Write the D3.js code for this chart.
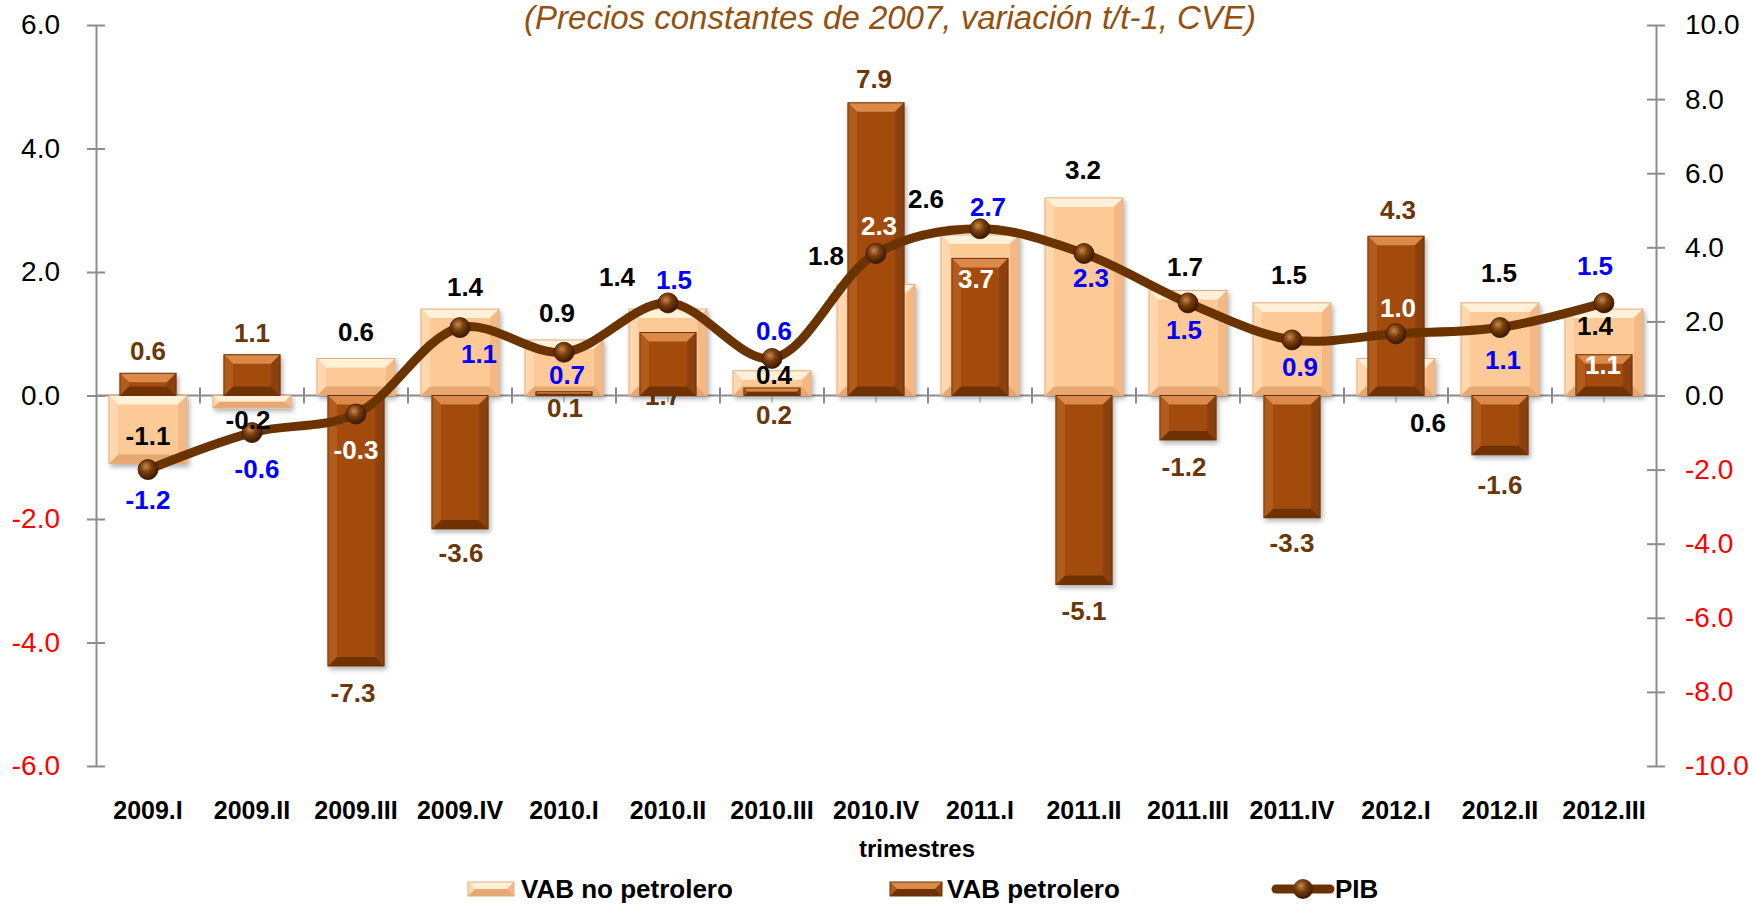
<!DOCTYPE html>
<html>
<head>
<meta charset="utf-8">
<script src="https://cdn.jsdelivr.net/npm/d3@7"></script>
<style>
    body { margin: 0; background: #fff; }
    text { font-family: "Liberation Sans", Arial, sans-serif; }
</style>
</head>
<body>
<div id="chart"></div>
<script>
// data
let quarters = ["2009.I", "2009.II", "2009.III", "2009.IV", "2010.I", "2010.II", "2010.III", "2010.IV",
    "2011.I", "2011.II", "2011.III", "2011.IV", "2012.I", "2012.II", "2012.III"];
let vabNoPetrolero = [-1.1, -0.2, 0.6, 1.4, 0.9, 1.4, 0.4, 1.8, 2.6, 3.2, 1.7, 1.5, 0.6, 1.5, 1.4];
let vabPetrolero = [0.6, 1.1, -7.3, -3.6, 0.1, 1.7, 0.2, 7.9, 3.7, -5.1, -1.2, -3.3, 4.3, -1.6, 1.1];
let pib = [-1.2, -0.6, -0.3, 1.1, 0.7, 1.5, 0.6, 2.3, 2.7, 2.3, 1.5, 0.9, 1.0, 1.1, 1.5];
let leftTicks = [-6, -4, -2, 0, 2, 4, 6];
let rightTicks = [-10, -8, -6, -4, -2, 0, 2, 4, 6, 8, 10];

// label placement (offset of the label centre from bar end / point), as Excel left them
let noPetLabelOff = [[0, -27], [-4, 12], [0, -26], [5, -22], [-7, -27], [-51, -32], [2, 4], [-50, -28],
    [-54, -36], [-1, -28], [-3, -24], [-3, -28], [32, 65], [-1, -30], [-9, 17]];
let petLabelOff = [[0, -22], [0, -22], [-3, 27], [1, 24], [1, 16], [-5, 63], [2, 27], [-2, -24],
    [-4, 21], [0, 27], [-4, 27], [0, 25], [2, -26], [0, 30], [-1, 10]];
let pibLabelOff = [[0, 30], [5, 36], [0, 36], [19, 26], [3, 23], [6, -23], [2, -27], [3, -27],
    [8, -22], [7, 25], [-4, 27], [8, 27], [2, -26], [3, 32], [-9, -37]];
let petWhite = [8, 14];
let pibWhite = [2, 7, 12];

let svgWidth = 1752;
let svgHeight = 904;
let margin = { top: 25, right: 96, bottom: 138, left: 96 };
let plotRight = 1656;
let plotBottom = 766;

let fmt = d => d.toFixed(1);   // plain hyphen for negatives, like the original

let svg = d3.select("#chart")
    .append("svg")
    .attr("width", svgWidth)
    .attr("height", svgHeight);

let defs = svg.append("defs");
let shadow = defs.append("filter").attr("id", "shadow")
    .attr("x", "-20%").attr("y", "-20%").attr("width", "140%").attr("height", "140%");
shadow.append("feDropShadow").attr("dx", 2).attr("dy", 3).attr("stdDeviation", 2.5)
    .attr("flood-color", "#000").attr("flood-opacity", 0.3);

let ball = defs.append("radialGradient").attr("id", "ball")
    .attr("cx", "40%").attr("cy", "35%").attr("r", "65%");
ball.append("stop").attr("offset", "0%").attr("stop-color", "#c98a4e");
ball.append("stop").attr("offset", "45%").attr("stop-color", "#7a3d0c");
ball.append("stop").attr("offset", "100%").attr("stop-color", "#3a1802");

let xScale = d3.scaleBand()
    .domain(quarters)
    .range([margin.left, plotRight]);

let yLeft = d3.scaleLinear().domain([-6, 6]).range([plotBottom, margin.top]);
let yRight = d3.scaleLinear().domain([-10, 10]).range([plotBottom, margin.top]);

let bw = xScale.bandwidth();
let cx = q => xScale(q) + bw / 2;

let lightPal = { base: "#fdca97", top: "#fff0d8", bottom: "#e6a870", left: "#fed7ae", right: "#f3b883", edge: "#e3ad7c" };
let brownPal = { base: "#a24c0e", top: "#dc8a4a", bottom: "#6f3206", left: "#b25c1c", right: "#8c3f0a", edge: "#6b3208" };

function bevelBar(g, x, y, w, h, pal) {
    let b = Math.min(9, h / 2, w / 2);
    let bar = g.append("g");
    bar.append("rect").attr("x", x).attr("y", y).attr("width", w).attr("height", h)
        .attr("fill", pal.base);
    let poly = (pts, c) => bar.append("polygon").attr("points", pts.map(p => p.join(",")).join(" ")).attr("fill", c);
    poly([[x, y], [x + w, y], [x + w - b, y + b], [x + b, y + b]], pal.top);
    poly([[x, y + h], [x + w, y + h], [x + w - b, y + h - b], [x + b, y + h - b]], pal.bottom);
    poly([[x, y], [x + b, y + b], [x + b, y + h - b], [x, y + h]], pal.left);
    poly([[x + w, y], [x + w - b, y + b], [x + w - b, y + h - b], [x + w, y + h]], pal.right);
    bar.append("rect").attr("x", x).attr("y", y).attr("width", w).attr("height", h)
        .attr("fill", "none").attr("stroke", pal.edge).attr("stroke-width", 1);
}

// title (its first line is cut off in the original)
svg.append("text")
    .attr("x", 890).attr("y", 29)
    .attr("text-anchor", "middle")
    .attr("font-size", 33).attr("font-style", "italic")
    .attr("fill", "#94500f")
    .text("(Precios constantes de 2007, variación t/t-1, CVE)");

// axes
let axisColor = "#8c8c8c";
let leftAxis = d3.axisLeft(yLeft).tickValues(leftTicks).tickFormat(fmt).tickSize(0);
let rightAxis = d3.axisRight(yRight).tickValues(rightTicks).tickFormat(fmt).tickSize(0);

let gl = svg.append("g").attr("transform", `translate(${margin.left},0)`).call(leftAxis);
let gr = svg.append("g").attr("transform", `translate(${plotRight},0)`).call(rightAxis);
[gl, gr].forEach(g => {
    g.select(".domain").attr("stroke", axisColor).attr("stroke-width", 2);
    g.selectAll(".tick line").remove();
    g.selectAll(".tick").append("line").attr("x1", -9).attr("x2", 9)
        .attr("stroke", axisColor).attr("stroke-width", 2);
    g.selectAll(".tick text").attr("font-size", 28).attr("font-family", "Liberation Sans, Arial, sans-serif")
        .attr("fill", d => d < 0 ? "#ff0000" : "#000");
});
gl.selectAll(".tick text").attr("x", -36);
gr.selectAll(".tick text").attr("x", 29);

// category axis along zero
let zeroY = yLeft(0);
let catAxis = svg.append("g");
catAxis.append("line").attr("x1", margin.left).attr("x2", plotRight).attr("y1", zeroY).attr("y2", zeroY)
    .attr("stroke", axisColor).attr("stroke-width", 2);
catAxis.selectAll(".bt").data(quarters.slice(1)).enter().append("line")
    .attr("x1", d => xScale(d)).attr("x2", d => xScale(d))
    .attr("y1", zeroY - 8).attr("y2", zeroY + 8)
    .attr("stroke", axisColor).attr("stroke-width", 2);
catAxis.selectAll(".ct").data(quarters).enter().append("line")
    .attr("x1", d => cx(d)).attr("x2", d => cx(d))
    .attr("y1", zeroY).attr("y2", zeroY + 7)
    .attr("stroke", "#b4b4b4").attr("stroke-width", 1.5);

// category labels
svg.selectAll(".cat").data(quarters).enter().append("text")
    .attr("x", d => cx(d)).attr("y", 810)
    .attr("dominant-baseline", "central")
    .attr("text-anchor", "middle")
    .attr("font-size", 25).attr("font-weight", "bold")
    .text(d => d);

svg.append("text")
    .attr("x", 917).attr("y", 848)
    .attr("dominant-baseline", "central")
    .attr("text-anchor", "middle")
    .attr("font-size", 24).attr("font-weight", "bold")
    .text("trimestres");

// label hidden behind bars (2010.II petrolero)
let behind = svg.append("g");

// bars
let barsGroup = svg.append("g").attr("filter", "url(#shadow)");
let lightW = bw * 0.75;
let brownW = bw * 0.54;
quarters.forEach((q, i) => {
    let v = vabNoPetrolero[i];
    let y0 = yLeft(0), y1 = yLeft(v);
    bevelBar(barsGroup, cx(q) - lightW / 2, Math.min(y0, y1), lightW, Math.abs(y1 - y0), lightPal);
});
quarters.forEach((q, i) => {
    let v = vabPetrolero[i];
    let y0 = yRight(0), y1 = yRight(v);
    bevelBar(barsGroup, cx(q) - brownW / 2, Math.min(y0, y1), brownW, Math.abs(y1 - y0), brownPal);
});

// PIB line
let line = d3.line()
    .x((d, i) => cx(quarters[i]))
    .y(d => yLeft(d))
    .curve(d3.curveCatmullRom);

svg.append("path")
    .datum(pib)
    .attr("d", line)
    .attr("fill", "none")
    .attr("stroke", "#6b3300")
    .attr("stroke-width", 9)
    .attr("stroke-linecap", "round");

svg.selectAll(".pt").data(pib).enter().append("circle")
    .attr("cx", (d, i) => cx(quarters[i]))
    .attr("cy", d => yLeft(d))
    .attr("r", 10)
    .attr("fill", "url(#ball)")
    .attr("stroke", "#3a1802").attr("stroke-width", 0.8);

// data labels
function addLabels(values, scale, offs, colorOf) {
    values.forEach((v, i) => {
        let target = (offs === petLabelOff && i === 5) ? behind : svg;
        target.append("text")
            .attr("x", cx(quarters[i]) + offs[i][0])
            .attr("y", scale(v) + offs[i][1])
            .attr("dominant-baseline", "central")
            .attr("text-anchor", "middle")
            .attr("font-size", 26).attr("font-weight", "bold")
            .attr("fill", colorOf(i))
            .text(fmt(v));
    });
}
addLabels(vabNoPetrolero, yLeft, noPetLabelOff, i => "#000");
addLabels(vabPetrolero, yRight, petLabelOff, i => petWhite.includes(i) ? "#fff" : "#6b3708");
addLabels(pib, yLeft, pibLabelOff, i => pibWhite.includes(i) ? "#fff" : "#0000ff");

// legend
let legend = svg.append("g");
bevelBar(legend, 468, 882, 46, 14, lightPal);
legend.append("text").attr("x", 521).attr("y", 889).attr("dominant-baseline", "central")
    .attr("font-size", 26).attr("font-weight", "bold").text("VAB no petrolero");
bevelBar(legend, 890, 882, 52, 14, brownPal);
legend.append("text").attr("x", 947).attr("y", 889).attr("dominant-baseline", "central")
    .attr("font-size", 26).attr("font-weight", "bold").text("VAB petrolero");
legend.append("line").attr("x1", 1276).attr("x2", 1330).attr("y1", 889).attr("y2", 889)
    .attr("stroke", "#6b3300").attr("stroke-width", 9).attr("stroke-linecap", "round");
legend.append("circle").attr("cx", 1303).attr("cy", 889).attr("r", 10).attr("fill", "url(#ball)");
legend.append("text").attr("x", 1335).attr("y", 889).attr("dominant-baseline", "central")
    .attr("font-size", 26).attr("font-weight", "bold").text("PIB");
</script>
</body>
</html>
